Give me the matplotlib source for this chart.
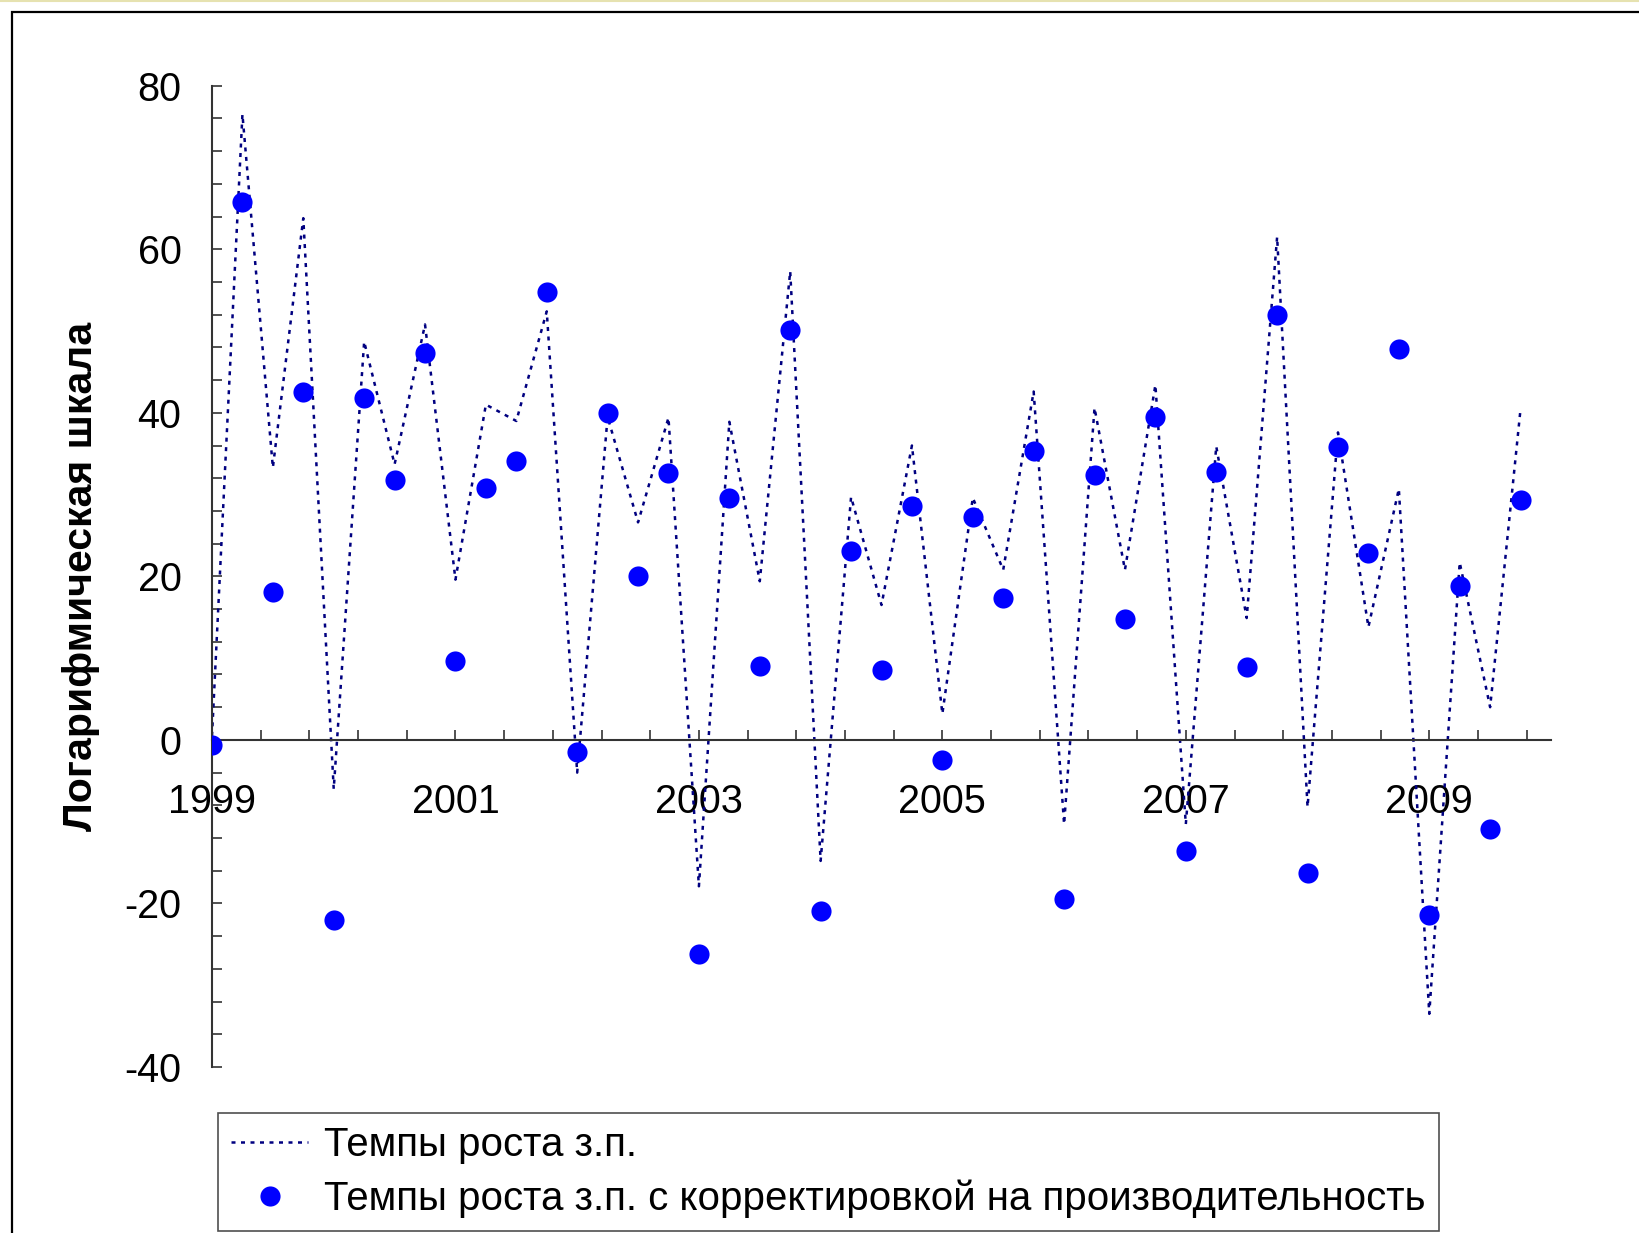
import matplotlib
matplotlib.use("Agg")
import numpy as np
import matplotlib.pyplot as plt
from matplotlib.ticker import FixedLocator, FuncFormatter, MultipleLocator
from matplotlib.patches import Rectangle
from matplotlib.lines import Line2D

plt.rcParams['font.family'] = ['Liberation Sans', 'DejaVu Sans']
plt.rcParams['axes.unicode_minus'] = False

# quarterly observations, 1999Q1 .. 2009Q4
quarters = [1999 + q / 4 for q in range(44)]

wage_growth = [
    0.5, 76.5, 33.3, 63.8,
    -6.0, 48.7, 33.7, 50.8,
    19.6, 41.0, 39.0, 52.4,
    -4.0, 39.5, 26.6, 39.4,
    -17.9, 38.9, 19.4, 57.3,
    -14.8, 29.7, 16.5, 36.0,
    3.2, 29.6, 20.8, 42.6,
    -10.3, 40.6, 20.8, 43.4,
    -10.3, 35.9, 14.9, 61.5,
    -8.2, 37.6, 13.8, 30.7,
    -33.5, 21.7, 4.0, 40.5,
]

wage_growth_adj = [
    -0.6, 65.8, 18.1, 42.6,
    -22.0, 41.8, 31.8, 47.3,
    9.6, 30.8, 34.1, 54.8,
    -1.5, 40.0, 20.1, 32.6,
    -26.2, 29.6, 9.0, 50.1,
    -20.9, 23.1, 8.6, 28.6,
    -2.4, 27.3, 17.3, 35.3,
    -19.5, 32.4, 14.8, 39.5,
    -13.6, 32.8, 8.9, 52.0,
    -16.3, 35.8, 22.8, 47.8,
    -21.4, 18.8, -10.9, 29.3,
]

year_ticks = [1999, 2001, 2003, 2005, 2007, 2009]

labels = ["Темпы роста з.п.",
          "Темпы роста з.п. с корректировкой на производительность"]
ylabel = "Логарифмическая шкала"

W, H = 1639, 1233
fig = plt.figure(figsize=(W / 100, H / 100), dpi=100)
fig.patch.set_facecolor("white")

left, right = 212 / W, 1551 / W
bottom, top = 1 - 1067 / H, 1 - 85.7 / H
ax = fig.add_axes([left, bottom, right - left, top - bottom])

ax.plot(quarters, wage_growth, color="#000080", lw=1.8,
        linestyle=(0, (1.6, 2.2)), label=labels[0], zorder=2)
ax.plot(quarters, wage_growth_adj, linestyle="none", marker="o",
        markersize=14.5, color="#0000FF", markeredgewidth=0,
        label=labels[1], zorder=3)

ax.set_xlim(1999, 2010)
ax.set_ylim(-40, 80)

for s in ("top", "right"):
    ax.spines[s].set_visible(False)
ax.spines["bottom"].set_position(("data", 0))
for s in ("left", "bottom"):
    ax.spines[s].set_color("#333333")
    ax.spines[s].set_linewidth(1.5)

# labels every two years, small marks every 0.4 year
ax.xaxis.set_major_locator(FixedLocator(year_ticks))
ax.xaxis.set_minor_locator(FixedLocator(np.arange(1999.4, 2009.9, 0.4)))
ax.xaxis.set_major_formatter(FuncFormatter(lambda v, p: "%d" % round(v)))
ax.yaxis.set_major_locator(MultipleLocator(20))
ax.yaxis.set_minor_locator(MultipleLocator(4))

ax.tick_params(axis="both", which="both", direction="in", length=7.5,
               width=1.2, color="#333333", labelsize=28.5)
ax.tick_params(axis="x", which="both", pad=31)
ax.tick_params(axis="y", which="both", pad=22)

ax.set_ylabel(ylabel, fontsize=29.5, fontweight="bold")
ax.yaxis.label.set_va("center")
ax.yaxis.set_label_coords(-0.098, 0.5)

leg = fig.legend(handles=ax.get_lines(), labels=labels, loc="upper left",
                 bbox_to_anchor=(218 / W, 1 - 1113 / H), borderaxespad=0,
                 fontsize=29, frameon=True, fancybox=False,
                 handlelength=1.9, handletextpad=0.4, labelspacing=0.38,
                 borderpad=0.33, markerscale=1.0)
leg.get_frame().set_edgecolor("#222222")
leg.get_frame().set_linewidth(1.2)

# outer chart frame and the thin strip along the top edge
fig.add_artist(Rectangle((12 / W, -0.05), 1.2, 1 - 12 / H + 0.05,
                         transform=fig.transFigure, fill=False,
                         edgecolor="black", lw=1.6))
fig.add_artist(Line2D([0, 1], [1 - 0.8 / H, 1 - 0.8 / H],
                      transform=fig.transFigure, color="#e6e2b0", lw=1.5))

fig.savefig("out.png", dpi=100)
